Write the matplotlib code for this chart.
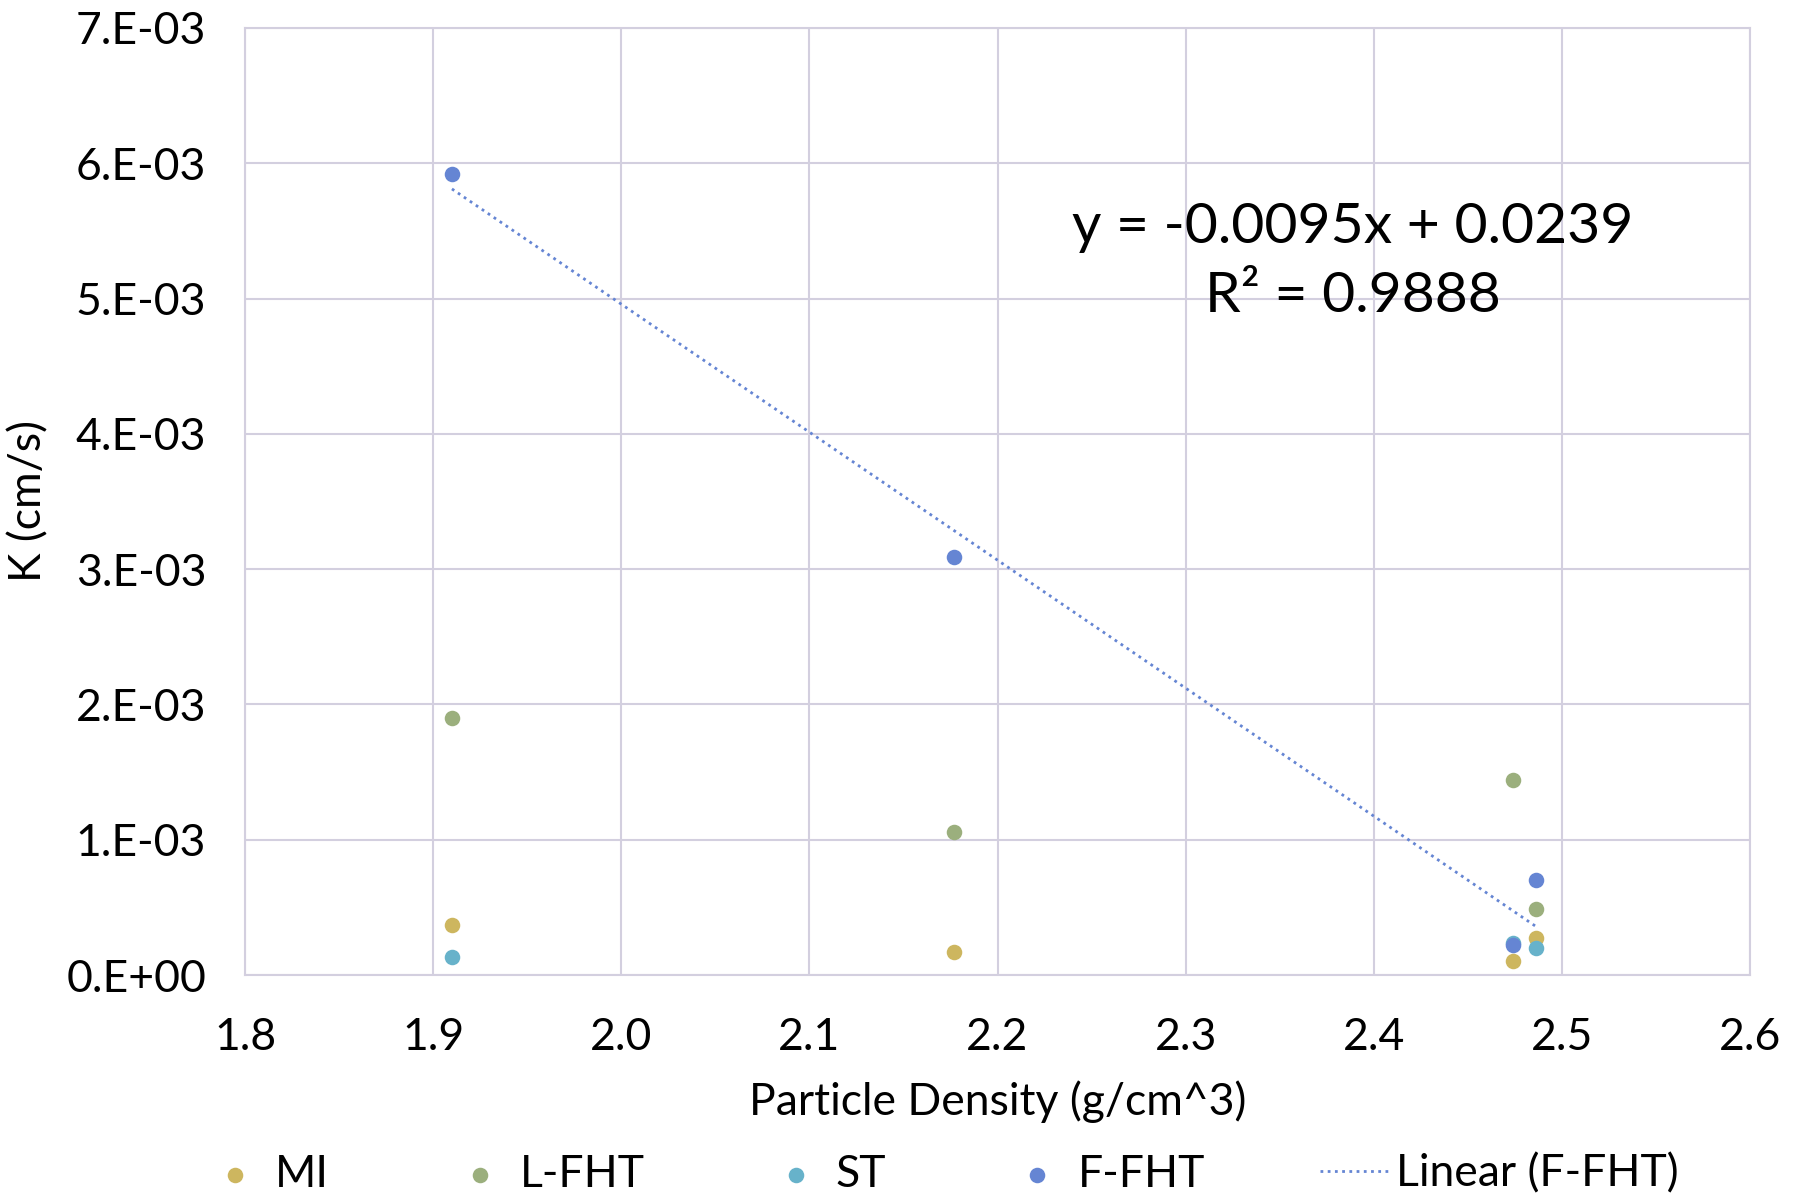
import numpy as np
import matplotlib
matplotlib.use("Agg")
import matplotlib.pyplot as plt
import matplotlib.ticker as ticker

plt.rcParams['font.family'] = ['Lato', 'DejaVu Sans']

# data
mi_x = [1.91, 2.177, 2.474, 2.486]
mi_y = [0.37e-3, 0.17e-3, 0.10e-3, 0.27e-3]

lfht_x = [1.91, 2.177, 2.474, 2.486]
lfht_y = [1.90e-3, 1.06e-3, 1.44e-3, 0.49e-3]

st_x = [1.91, 2.474, 2.486]
st_y = [0.13e-3, 0.24e-3, 0.20e-3]

ffht_x = [1.91, 2.177, 2.474, 2.486]
ffht_y = [5.92e-3, 3.09e-3, 0.22e-3, 0.70e-3]

x_ticks = [1.8, 1.9, 2.0, 2.1, 2.2, 2.3, 2.4, 2.5, 2.6]
y_ticks = [0, 1e-3, 2e-3, 3e-3, 4e-3, 5e-3, 6e-3, 7e-3]

c_mi = "#CDB65F"
c_lfht = "#9BAF7D"
c_st = "#67B2CA"
c_ffht = "#6585D3"
grid_c = "#D3CFDF"

fig = plt.figure(figsize=(18.02, 11.97), dpi=100)
ax = fig.add_axes([245 / 1802, 1 - 975 / 1197, (1750 - 245) / 1802, (975 - 28) / 1197])

ms = 125
ax.scatter(mi_x, mi_y, s=ms, color=c_mi, label="MI", zorder=3, linewidths=0)
ax.scatter(lfht_x, lfht_y, s=ms, color=c_lfht, label="L-FHT", zorder=3, linewidths=0)
ax.scatter(st_x, st_y, s=ms, color=c_st, label="ST", zorder=3, linewidths=0)
ax.scatter(ffht_x, ffht_y, s=ms, color=c_ffht, label="F-FHT", zorder=4, linewidths=0)

# linear trendline for F-FHT
k, b = np.polyfit(ffht_x, ffht_y, 1)
tx = np.array([min(ffht_x), max(ffht_x)])
ax.plot(tx, k * tx + b, color=c_ffht, linewidth=2.0, linestyle=(0, (1, 1.6)),
        label="Linear (F-FHT)", zorder=2)

ax.text(2.389, 5.27e-3, "y = -0.0095x + 0.0239\nR² = 0.9888", fontsize=41,
        ha="center", va="center", linespacing=1.45)

ax.set_xlim(1.8, 2.6)
ax.set_ylim(0, 7e-3)
ax.set_xticks(x_ticks)
ax.set_yticks(y_ticks)
ax.xaxis.set_major_formatter(ticker.FormatStrFormatter('%.1f'))
ax.yaxis.set_major_formatter(ticker.FuncFormatter(
    lambda v, p: ("%.0E" % v).replace("E", ".E")))
ax.tick_params(axis='both', length=0, labelsize=32)
ax.tick_params(axis='x', pad=30)
ax.tick_params(axis='y', pad=28)

ax.grid(color=grid_c, linewidth=1.5)
ax.set_axisbelow(True)
for s in ax.spines.values():
    s.set_color(grid_c)
    s.set_linewidth(1.5)

ax.set_xlabel("Particle Density (g/cm^3)", fontsize=32, labelpad=16)
ax.set_ylabel("K (cm/s)", fontsize=32, labelpad=12)

fig.legend(loc="center", bbox_to_anchor=(0.521, 0.019), ncol=5, frameon=False,
           fontsize=32, columnspacing=2.6, handletextpad=0.1, handlelength=1.6,
           markerscale=1.0)

plt.savefig("out.png", dpi=100)
